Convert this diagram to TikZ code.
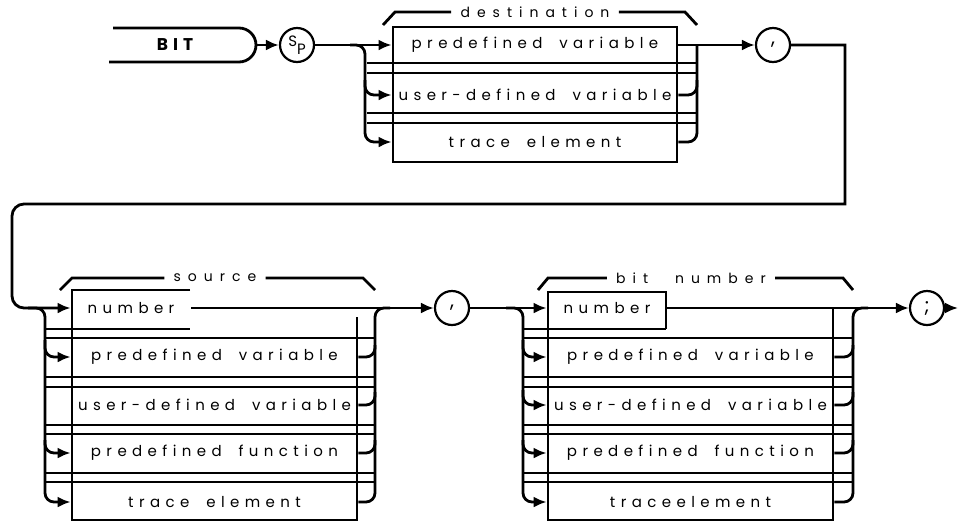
\documentclass[tikz,border=0pt]{standalone}
\usepackage{fontspec}
\setmainfont{Poppins}
\newfontfamily\hpfont{Poppins}[LetterSpace=36,WordSpace=1.8]
\newfontfamily\hphead{Poppins}[LetterSpace=50,WordSpace=2.5]
\newfontfamily\hpkey{Poppins}[LetterSpace=30]
\usetikzlibrary{arrows.meta}

\begin{document}
\begin{tikzpicture}[x=1pt,y=-1pt,line width=2.8pt,>={Latex[length=13pt,width=11pt]}]
\useasboundingbox (0,0) rectangle (960,523);
  \tikzstyle{rowtext}=[minimum width=285pt, minimum height=22pt, inner sep=0pt, font=\hpfont\fontsize{15}{17}\selectfont]
  \tikzstyle{token}=[circle, draw, line width=2.2pt, minimum size=34pt, inner sep=0pt, font=\fontsize{20}{22}\selectfont]
  \tikzstyle{heading}=[inner sep=0pt, font=\hphead\fontsize{14}{16}\selectfont]

  %keyword and space
  \node[font=\hpkey\bfseries\fontsize{17}{19}\selectfont] (kw) at (175,45) {BIT};
  \draw[rounded corners=17pt] (113,28) -- (256,28) -- (256,62) -- (109,62);
  \coordinate (kwend) at (256,45);
  \node[token, font=\fontsize{15}{17}\selectfont] (sp) at (297,45) {\raisebox{4pt}{S}\raisebox{-4pt}{P}};
  \draw[->] (kwend) -- (sp);

  %destination block
  \node[heading] (dlbl) at (535,12) {destination};
  \draw ([xshift=-8pt]dlbl.west) -- (395,12) -- (383,25);
  \draw ([xshift=8pt]dlbl.east) -- (685,12) -- (697,25);
  \node[rowtext, minimum width=284pt] (dest1) at (535,45) {predefined variable};
  \node[rowtext, minimum width=284pt] (dest2) at (535,95) {user-defined variable};
  \node[rowtext, minimum width=284pt] (dest3) at (535,142) {trace element};
  \draw (393,27) rectangle (677,162);
  \foreach \y in {63,73,113,123}
    \draw (367,\y) -- (697,\y);
  \coordinate (dsplit) at (350,45);
  \draw[->] (sp) -- (dest1);
  \draw[->,rounded corners=9pt] (dsplit) -| (365,142) -- (dest3);
  \draw[->,rounded corners=9pt] (365,80) |- (dest2);
  \draw[rounded corners=9pt] (dest3) -| (697,45);
  \draw[rounded corners=9pt] (dest2) -| (697,80);

  \node[token] (c1) at (773,45) {,};
  \draw[->] (dest1) -- (c1);

  %source block
  \node[heading] (slbl) at (215,278) {source};
  \draw ([xshift=-8pt]slbl.west) -- (72,278) -- (60,290);
  \draw ([xshift=8pt]slbl.east) -- (363,278) -- (375,290);
  \node[rowtext, minimum width=118pt] (src1) at (131,308) {number};
  \node[rowtext] (src2) at (214.5,357) {predefined variable};
  \node[rowtext] (src3) at (214.5,405) {user-defined variable};
  \node[rowtext] (src4) at (214.5,453) {predefined function};
  \node[rowtext] (src5) at (214.5,502) {trace element};
  \draw (190,290) -- (72,290) -- (72,520) -- (357,520) -- (357,317);
  \draw (45,329) -- (190,329);
  \foreach \y in {338,377,387,425,434,473,482}
    \draw (45,\y) -- (375,\y);
  %back round from the first comma
  \draw[->] (c1) -- (845,45) -- (845,204) [rounded corners=12pt] -- (12,204) -- (12,308) -- (src1);
  \coordinate (ssplit) at (28,308);
  \draw[->,rounded corners=9pt] (ssplit) -| (45,502) -- (src5);
  \draw[->,rounded corners=9pt] (45,340) |- (src2);
  \draw[->,rounded corners=9pt] (45,440) |- (src4);
  \draw[rounded corners=9pt] (src5) -| (375,330) |- (390,308);
  \draw[rounded corners=9pt] (src2) -| (375,345);
  \draw[rounded corners=9pt] (src3) -| (375,392);
  \draw[rounded corners=9pt] (src4) -| (375,440);

  \node[token] (c2) at (452,308) {,};
  \draw[->] (src1) -- (c2);

  %bit number block
  \node[heading] (blbl) at (691,278) {bit number};
  \draw ([xshift=-8pt]blbl.west) -- (548,278) -- (538,290);
  \draw ([xshift=8pt]blbl.east) -- (843,278) -- (853,290);
  \node[rowtext, minimum width=118pt] (bit1) at (607,308) {number};
  \node[rowtext] (bit2) at (690.5,357) {predefined variable};
  \node[rowtext] (bit3) at (690.5,405) {user-defined variable};
  \node[rowtext] (bit4) at (690.5,453) {predefined function};
  \node[rowtext] (bit5) at (690.5,502) {traceelement};
  \draw (666,329) -- (666,292) -- (548,292) -- (548,520) -- (833,520) -- (833,308);
  \draw (523,329) -- (666,329);
  \foreach \y in {338,377,387,425,434,473,482}
    \draw (523,\y) -- (853,\y);
  \coordinate (bsplit) at (506,308);
  \draw[->] (c2) -- (bit1);
  \draw[->,rounded corners=9pt] (bsplit) -| (523,502) -- (bit5);
  \draw[->,rounded corners=9pt] (523,340) |- (bit2);
  \draw[->,rounded corners=9pt] (523,390) |- (bit3);
  \draw[->,rounded corners=9pt] (523,440) |- (bit4);
  \draw[rounded corners=9pt] (bit5) -| (853,330) |- (868,308);
  \draw[rounded corners=9pt] (bit2) -| (853,345);
  \draw[rounded corners=9pt] (bit3) -| (853,392);
  \draw[rounded corners=9pt] (bit4) -| (853,440);

  \node[token] (semi) at (927,308) {;};
  \coordinate (out) at (958,308);
  \draw[->] (bit1) -- (semi);
  \draw[->] (semi) -- (out);
\end{tikzpicture}
\end{document}
